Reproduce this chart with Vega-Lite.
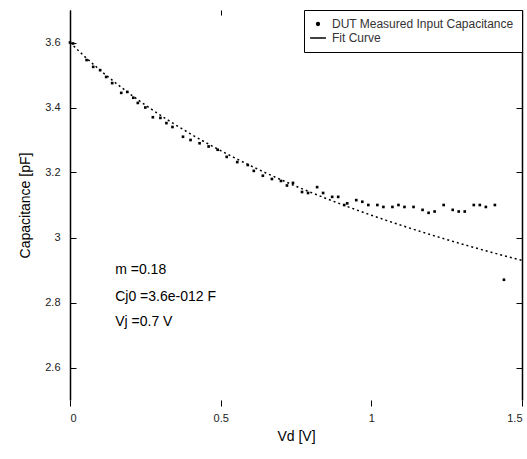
{
  "$schema": "https://vega.github.io/schema/vega-lite/v6.json",
  "width": 452,
  "height": 390,
  "autosize": {"type": "none"},
  "padding": {"left": 70, "top": 10, "right": 5, "bottom": 59},
  "background": "white",
  "config": {
    "font": "Liberation Sans",
    "view": {"stroke": null},
    "axis": {"grid": false, "domainColor": "black", "tickColor": "black", "labelColor": "#222", "titleColor": "black", "labelFontSize": 11, "titleFontSize": 14, "titleFontWeight": "normal", "domainWidth": 1.5}
  },
  "datasets": {
    "measured": [
      {"V": 0.0, "C": 3.6, "series": "DUT Measured Input Capacitance"},
      {"V": 0.01, "C": 3.597, "series": "DUT Measured Input Capacitance"},
      {"V": 0.055, "C": 3.546, "series": "DUT Measured Input Capacitance"},
      {"V": 0.077, "C": 3.525, "series": "DUT Measured Input Capacitance"},
      {"V": 0.1, "C": 3.515, "series": "DUT Measured Input Capacitance"},
      {"V": 0.12, "C": 3.494, "series": "DUT Measured Input Capacitance"},
      {"V": 0.14, "C": 3.475, "series": "DUT Measured Input Capacitance"},
      {"V": 0.17, "C": 3.445, "series": "DUT Measured Input Capacitance"},
      {"V": 0.19, "C": 3.448, "series": "DUT Measured Input Capacitance"},
      {"V": 0.21, "C": 3.43, "series": "DUT Measured Input Capacitance"},
      {"V": 0.225, "C": 3.414, "series": "DUT Measured Input Capacitance"},
      {"V": 0.25, "C": 3.4, "series": "DUT Measured Input Capacitance"},
      {"V": 0.275, "C": 3.37, "series": "DUT Measured Input Capacitance"},
      {"V": 0.3, "C": 3.368, "series": "DUT Measured Input Capacitance"},
      {"V": 0.32, "C": 3.352, "series": "DUT Measured Input Capacitance"},
      {"V": 0.34, "C": 3.34, "series": "DUT Measured Input Capacitance"},
      {"V": 0.375, "C": 3.31, "series": "DUT Measured Input Capacitance"},
      {"V": 0.4, "C": 3.3, "series": "DUT Measured Input Capacitance"},
      {"V": 0.43, "C": 3.29, "series": "DUT Measured Input Capacitance"},
      {"V": 0.46, "C": 3.28, "series": "DUT Measured Input Capacitance"},
      {"V": 0.49, "C": 3.27, "series": "DUT Measured Input Capacitance"},
      {"V": 0.52, "C": 3.248, "series": "DUT Measured Input Capacitance"},
      {"V": 0.555, "C": 3.232, "series": "DUT Measured Input Capacitance"},
      {"V": 0.59, "C": 3.223, "series": "DUT Measured Input Capacitance"},
      {"V": 0.61, "C": 3.205, "series": "DUT Measured Input Capacitance"},
      {"V": 0.64, "C": 3.19, "series": "DUT Measured Input Capacitance"},
      {"V": 0.67, "C": 3.18, "series": "DUT Measured Input Capacitance"},
      {"V": 0.7, "C": 3.174, "series": "DUT Measured Input Capacitance"},
      {"V": 0.72, "C": 3.16, "series": "DUT Measured Input Capacitance"},
      {"V": 0.74, "C": 3.168, "series": "DUT Measured Input Capacitance"},
      {"V": 0.77, "C": 3.14, "series": "DUT Measured Input Capacitance"},
      {"V": 0.79, "C": 3.137, "series": "DUT Measured Input Capacitance"},
      {"V": 0.82, "C": 3.155, "series": "DUT Measured Input Capacitance"},
      {"V": 0.84, "C": 3.137, "series": "DUT Measured Input Capacitance"},
      {"V": 0.87, "C": 3.125, "series": "DUT Measured Input Capacitance"},
      {"V": 0.89, "C": 3.125, "series": "DUT Measured Input Capacitance"},
      {"V": 0.91, "C": 3.1, "series": "DUT Measured Input Capacitance"},
      {"V": 0.92, "C": 3.105, "series": "DUT Measured Input Capacitance"},
      {"V": 0.95, "C": 3.115, "series": "DUT Measured Input Capacitance"},
      {"V": 0.97, "C": 3.11, "series": "DUT Measured Input Capacitance"},
      {"V": 0.99, "C": 3.1, "series": "DUT Measured Input Capacitance"},
      {"V": 1.02, "C": 3.1, "series": "DUT Measured Input Capacitance"},
      {"V": 1.04, "C": 3.094, "series": "DUT Measured Input Capacitance"},
      {"V": 1.07, "C": 3.094, "series": "DUT Measured Input Capacitance"},
      {"V": 1.09, "C": 3.1, "series": "DUT Measured Input Capacitance"},
      {"V": 1.11, "C": 3.094, "series": "DUT Measured Input Capacitance"},
      {"V": 1.14, "C": 3.094, "series": "DUT Measured Input Capacitance"},
      {"V": 1.17, "C": 3.085, "series": "DUT Measured Input Capacitance"},
      {"V": 1.19, "C": 3.076, "series": "DUT Measured Input Capacitance"},
      {"V": 1.21, "C": 3.08, "series": "DUT Measured Input Capacitance"},
      {"V": 1.24, "C": 3.1, "series": "DUT Measured Input Capacitance"},
      {"V": 1.27, "C": 3.085, "series": "DUT Measured Input Capacitance"},
      {"V": 1.29, "C": 3.08, "series": "DUT Measured Input Capacitance"},
      {"V": 1.31, "C": 3.08, "series": "DUT Measured Input Capacitance"},
      {"V": 1.34, "C": 3.1, "series": "DUT Measured Input Capacitance"},
      {"V": 1.36, "C": 3.1, "series": "DUT Measured Input Capacitance"},
      {"V": 1.38, "C": 3.094, "series": "DUT Measured Input Capacitance"},
      {"V": 1.41, "C": 3.1, "series": "DUT Measured Input Capacitance"},
      {"V": 1.44, "C": 2.87, "series": "DUT Measured Input Capacitance"}
    ],
    "fit": [
      {"V": 0.0, "C": 3.6, "series": "Fit Curve"},
      {"V": 0.05, "C": 3.5556, "series": "Fit Curve"},
      {"V": 0.1, "C": 3.5145, "series": "Fit Curve"},
      {"V": 0.15, "C": 3.4764, "series": "Fit Curve"},
      {"V": 0.2, "C": 3.4408, "series": "Fit Curve"},
      {"V": 0.25, "C": 3.4074, "series": "Fit Curve"},
      {"V": 0.3, "C": 3.3762, "series": "Fit Curve"},
      {"V": 0.35, "C": 3.3466, "series": "Fit Curve"},
      {"V": 0.4, "C": 3.3187, "series": "Fit Curve"},
      {"V": 0.45, "C": 3.2923, "series": "Fit Curve"},
      {"V": 0.5, "C": 3.2672, "series": "Fit Curve"},
      {"V": 0.55, "C": 3.2432, "series": "Fit Curve"},
      {"V": 0.6, "C": 3.2204, "series": "Fit Curve"},
      {"V": 0.65, "C": 3.1986, "series": "Fit Curve"},
      {"V": 0.7, "C": 3.1777, "series": "Fit Curve"},
      {"V": 0.75, "C": 3.1577, "series": "Fit Curve"},
      {"V": 0.8, "C": 3.1385, "series": "Fit Curve"},
      {"V": 0.85, "C": 3.1201, "series": "Fit Curve"},
      {"V": 0.9, "C": 3.1023, "series": "Fit Curve"},
      {"V": 0.95, "C": 3.0851, "series": "Fit Curve"},
      {"V": 1.0, "C": 3.0686, "series": "Fit Curve"},
      {"V": 1.05, "C": 3.0526, "series": "Fit Curve"},
      {"V": 1.1, "C": 3.0372, "series": "Fit Curve"},
      {"V": 1.15, "C": 3.0223, "series": "Fit Curve"},
      {"V": 1.2, "C": 3.0078, "series": "Fit Curve"},
      {"V": 1.25, "C": 2.9937, "series": "Fit Curve"},
      {"V": 1.3, "C": 2.9801, "series": "Fit Curve"},
      {"V": 1.35, "C": 2.9669, "series": "Fit Curve"},
      {"V": 1.4, "C": 2.9541, "series": "Fit Curve"},
      {"V": 1.45, "C": 2.9416, "series": "Fit Curve"},
      {"V": 1.5, "C": 2.9295, "series": "Fit Curve"}
    ],
    "notes": [
      {"V": 0.15, "C": 2.9, "label": "m =0.18"},
      {"V": 0.15, "C": 2.818, "label": "Cj0 =3.6e-012 F"},
      {"V": 0.15, "C": 2.74, "label": "Vj =0.7 V"}
    ]
  },
  "resolve": {"axis": {"y": "independent", "x": "independent"}},
  "layer": [
    {
      "data": {"name": "fit"},
      "mark": {"type": "line", "strokeWidth": 1.5, "strokeDash": [2, 3], "clip": true},
      "encoding": {
        "x": {"field": "V", "type": "quantitative", "scale": {"domain": [0, 1.5], "nice": false, "zero": false},
          "axis": {"title": "Vd [V]", "values": [0, 0.5, 1, 1.5], "format": "~g", "domain": false, "tickSize": 6, "labelPadding": 6, "titlePadding": 6}},
        "y": {"field": "C", "type": "quantitative", "scale": {"domain": [2.5, 3.7], "nice": false, "zero": false},
          "axis": {"title": "Capacitance [pF]", "values": [2.6, 2.8, 3.0, 3.2, 3.4, 3.6], "format": "~g", "tickSize": -6, "labelPadding": 16, "titlePadding": 12}},
        "color": {"field": "series", "type": "nominal",
          "scale": {"domain": ["DUT Measured Input Capacitance", "Fit Curve"], "range": ["black", "black"]},
          "legend": {"title": null, "orient": "top-right", "offset": 0, "strokeColor": "black", "fillColor": "white", "padding": 8, "labelFontSize": 12, "labelLimit": 400, "labelColor": "#333", "symbolSize": 120, "rowPadding": 2, "labelOffset": 8,
            "encode": {"symbols": {"update": {"shape": {"signal": "datum.value === 'Fit Curve' ? 'stroke' : 'circle'"}, "fill": {"signal": "datum.value === 'Fit Curve' ? 'transparent' : 'black'"}, "stroke": {"value": "black"}, "strokeWidth": {"value": 1.5}, "size": {"signal": "datum.value === 'Fit Curve' ? 250 : 8"}}}}}}
      }
    },
    {
      "data": {"name": "measured"},
      "mark": {"type": "point", "filled": true, "shape": "square", "size": 7, "opacity": 1},
      "encoding": {
        "x": {"field": "V", "type": "quantitative", "scale": {"domain": [0, 1.5], "nice": false, "zero": false},
          "axis": {"orient": "top", "title": null, "labels": false, "domain": false, "values": [0, 0.5, 1, 1.5], "tickSize": -5}},
        "y": {"field": "C", "type": "quantitative", "scale": {"domain": [2.5, 3.7], "nice": false, "zero": false},
          "axis": {"orient": "right", "title": null, "labels": false, "values": [2.6, 2.8, 3.0, 3.2, 3.4, 3.6], "tickSize": -6}},
        "color": {"field": "series", "type": "nominal"}
      }
    },
    {
      "data": {"name": "notes"},
      "mark": {"type": "text", "align": "left", "baseline": "middle", "fontSize": 14, "color": "black"},
      "encoding": {
        "x": {"field": "V", "type": "quantitative", "axis": null},
        "y": {"field": "C", "type": "quantitative", "axis": null},
        "text": {"field": "label"}
      }
    }
  ]
}
